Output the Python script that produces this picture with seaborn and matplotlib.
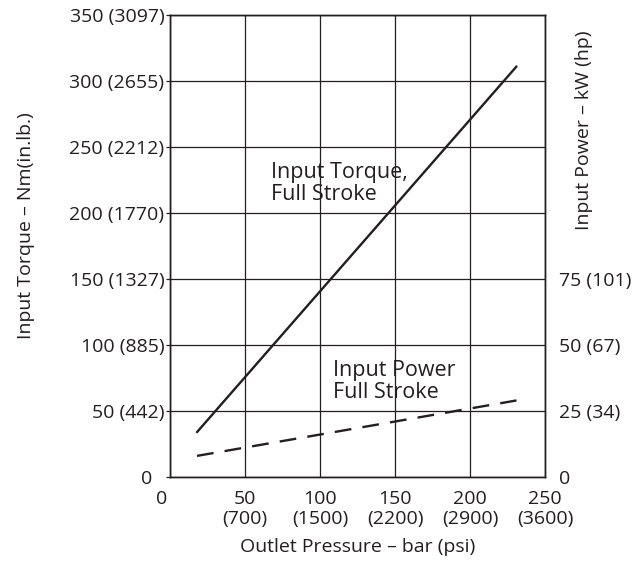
import matplotlib
matplotlib.use("Agg")
import matplotlib.pyplot as plt
import matplotlib.transforms as mtransforms
import seaborn as sns
import pandas as pd

# Data
pressure_bar = [18, 231]
torque_nm = [34, 311]
power_kw = [8, 29]

x_ticks = [0, 50, 100, 150, 200, 250]
x_tick_labels = ["0", "50\n(700)", "100\n(1500)", "150\n(2200)", "200\n(2900)", "250\n(3600)"]
y_ticks = [0, 50, 100, 150, 200, 250, 300, 350]
y_tick_labels = ["0", "50 (442)", "100 (885)", "150 (1327)", "200 (1770)",
                 "250 (2212)", "300 (2655)", "350 (3097)"]
y2_ticks = [0, 25, 50, 75]
y2_tick_labels = ["0", "25 (34)", "50 (67)", "75 (101)"]

sns.set_style("white")
plt.rcParams['font.family'] = ['Open Sans', 'DejaVu Sans']
plt.rcParams['font.size'] = 14
INK = "#231f20"
FS = 14

fig = plt.figure(figsize=(6.38, 5.65), dpi=100)
ax = fig.add_axes([170/638, 1-477/565, 375/638, 462/565])

df_t = pd.DataFrame({"x": pressure_bar, "y": torque_nm})
sns.lineplot(data=df_t, x="x", y="y", ax=ax, color=INK, linewidth=1.7)

ax.set_xlim(0, 250)
ax.set_ylim(0, 350)
ax.set_xticks(x_ticks)
ax.set_xticklabels(x_tick_labels, color=INK, fontsize=FS)
ax.set_yticks(y_ticks)
ax.set_yticklabels(y_tick_labels, color=INK, fontsize=FS)
ax.tick_params(axis="x", length=0, pad=9)
ax.tick_params(axis="y", length=3, width=0.9, color=INK, pad=1, direction="out", left=True)
ax.grid(True, color=INK, linewidth=0.9)
for s in ax.spines.values():
    s.set_color(INK)
    s.set_linewidth(1.0)
ax.set_xlabel("Outlet Pressure – bar (psi)", color=INK, fontsize=FS, labelpad=7)
ax.set_ylabel("Input Torque – Nm(in.lb.)", color=INK, fontsize=FS)
ax.yaxis.set_label_coords(-0.36, 0.545)

# shift the two origin "0" labels like the reference
lab_y0 = ax.yaxis.get_major_ticks()[0].label1
lab_y0.set_transform(lab_y0.get_transform() +
                     mtransforms.ScaledTranslation(-0.12, 0, fig.dpi_scale_trans))
lab_x0 = ax.xaxis.get_major_ticks()[0].label1
lab_x0.set_transform(lab_x0.get_transform() +
                     mtransforms.ScaledTranslation(-0.08, 0, fig.dpi_scale_trans))

ax2 = ax.twinx()
df_p = pd.DataFrame({"x": pressure_bar, "y": power_kw})
sns.lineplot(data=df_p, x="x", y="y", ax=ax2, color=INK, linewidth=1.7)
ax2.lines[0].set_dashes([7.1, 4.75])
ax2.set_ylim(0, 175)
ax2.set_yticks(y2_ticks)
ax2.set_yticklabels(y2_tick_labels, color=INK, fontsize=FS)
ax2.tick_params(axis="y", length=0, pad=10)
ax2.grid(False)
for s in ax2.spines.values():
    s.set_color(INK)
    s.set_linewidth(1.0)
ax2.set_ylabel("Input Power – kW (hp)", color=INK, fontsize=FS)
ax2.yaxis.set_label_coords(1.08, 0.75)

ax.text(67.5, 239, "Input Torque,\nFull Stroke", color=INK, fontsize=15.5,
        va="top", ha="left", linespacing=1.12)
ax2.text(108.5, 44.5, "Input Power\nFull Stroke", color=INK, fontsize=15.5,
         va="top", ha="left", linespacing=1.12)

fig.savefig("out.png", dpi=100)
